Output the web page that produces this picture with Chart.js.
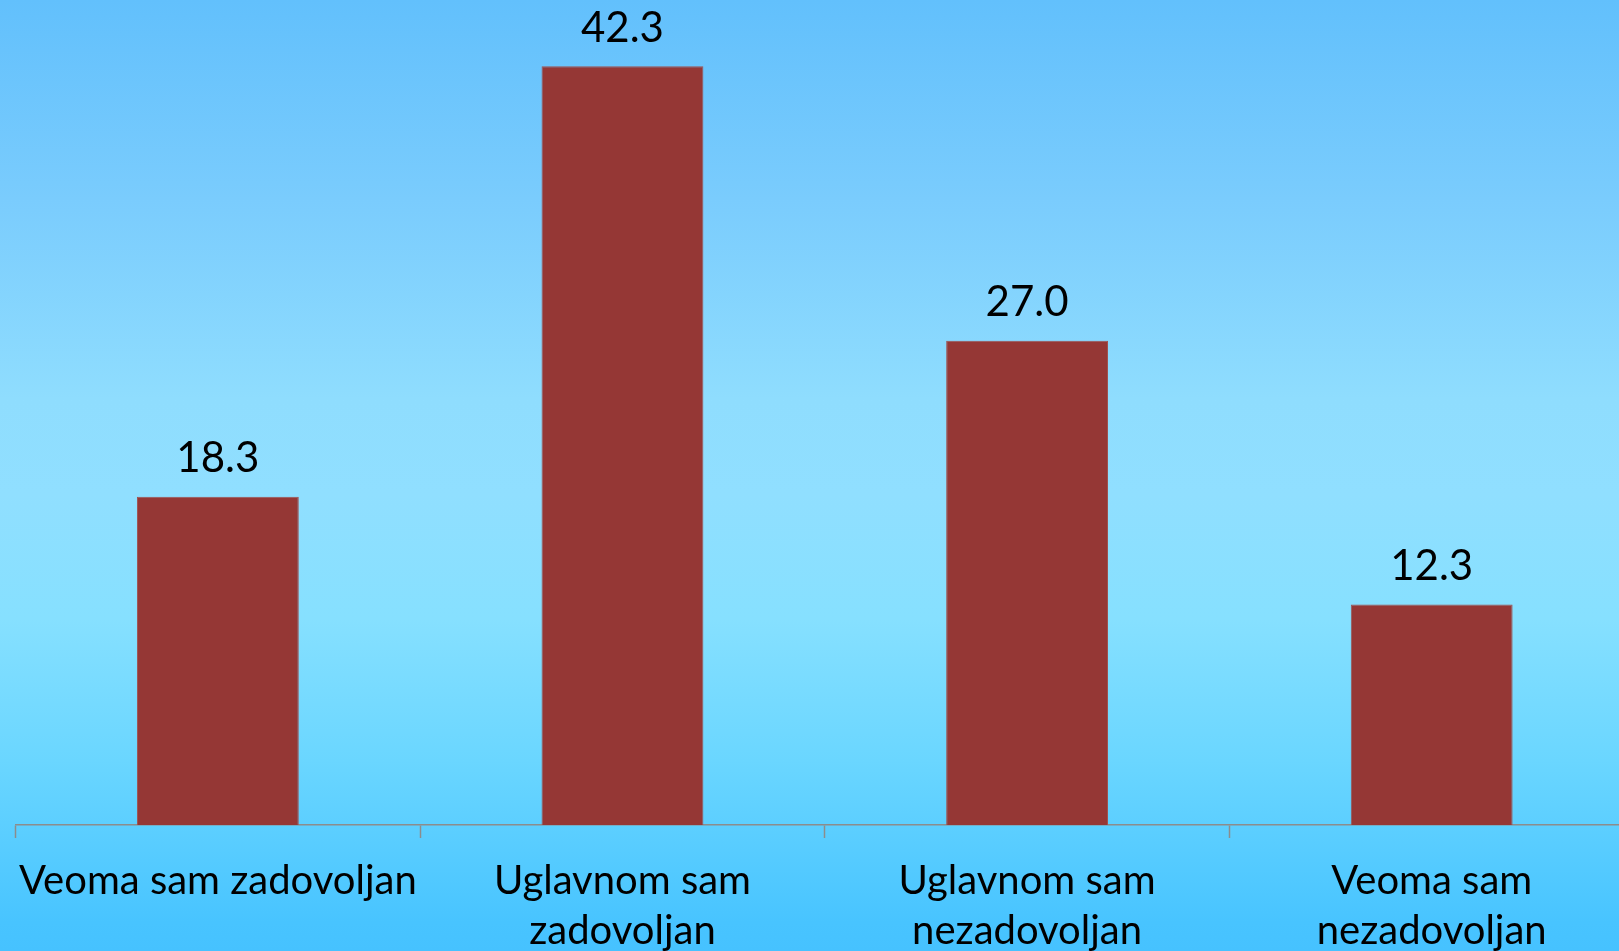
<!DOCTYPE html>
<html>
<head>
<meta charset="utf-8">
<script src="https://cdn.jsdelivr.net/npm/chart.js@4/dist/chart.umd.min.js"></script>
<style>
  html, body { margin: 0; padding: 0; overflow: hidden; background: #62c0fc; }
  canvas { display: block; }
</style>
</head>
<body>
<canvas id="satChart" width="1634" height="980"></canvas>
<script>
var categories = [
    'Veoma sam zadovoljan',
    ['Uglavnom sam', 'zadovoljan'],
    ['Uglavnom sam', 'nezadovoljan'],
    ['Veoma sam', 'nezadovoljan']
];
var values = [18.3, 42.3, 27.0, 12.3];

// background gradient, painted before everything else
var bgGradient = {
    id: 'bgGradient',
    beforeDraw: function (chart) {
        var c = chart.ctx;
        var g = c.createLinearGradient(0, 0, 0, 951);
        g.addColorStop(0.00, '#62c0fc');
        g.addColorStop(0.21, '#7accfd');
        g.addColorStop(0.42, '#8fddfe');
        g.addColorStop(0.52, '#90dfff');
        g.addColorStop(0.65, '#86e0ff');
        g.addColorStop(0.80, '#6ad6ff');
        g.addColorStop(0.97, '#48c4ff');
        g.addColorStop(1.00, '#46c2ff');
        c.save();
        c.fillStyle = g;
        c.fillRect(0, 0, chart.width, chart.height);
        c.restore();
    }
};

// numbers above the bars
var valueLabels = {
    id: 'valueLabels',
    afterDatasetsDraw: function (chart) {
        var c = chart.ctx;
        var meta = chart.getDatasetMeta(0);
        c.save();
        c.font = '42px Lato';
        c.fillStyle = '#000';
        c.textAlign = 'center';
        c.textBaseline = 'middle';
        meta.data.forEach(function (bar, i) {
            c.fillText(values[i].toFixed(1), bar.x, bar.y - 38);
        });
        c.restore();
    }
};

var ctx = document.getElementById('satChart');

var satChart = new Chart(ctx, {
    type: 'bar',
    data: {
        labels: categories,
        datasets: [{
            data: values,
            backgroundColor: '#953735',
            borderColor: '#a0524f',
            borderWidth: 1,
            barPercentage: 0.4,
            categoryPercentage: 1.0
        }]
    },
    options: {
        responsive: false,
        animation: false,
        layout: {
            padding: { left: 8, top: 0, right: 0, bottom: 6 }
        },
        scales: {
            x: {
                grid: {
                    offset: true,
                    drawOnChartArea: false,
                    tickLength: 13,
                    tickColor: '#8c8c8c',
                    tickWidth: 1.5
                },
                border: {
                    display: true,
                    color: '#8c8c8c',
                    width: 1.5
                },
                ticks: {
                    color: '#000',
                    padding: 18,
                    maxRotation: 0,
                    autoSkip: false,
                    font: { family: 'Lato', size: 40, lineHeight: 1.25 }
                }
            },
            y: {
                display: false,
                min: 0,
                max: 46
            }
        },
        plugins: {
            legend: { display: false },
            tooltip: { enabled: false }
        }
    },
    plugins: [bgGradient, valueLabels]
});
</script>
</body>
</html>
